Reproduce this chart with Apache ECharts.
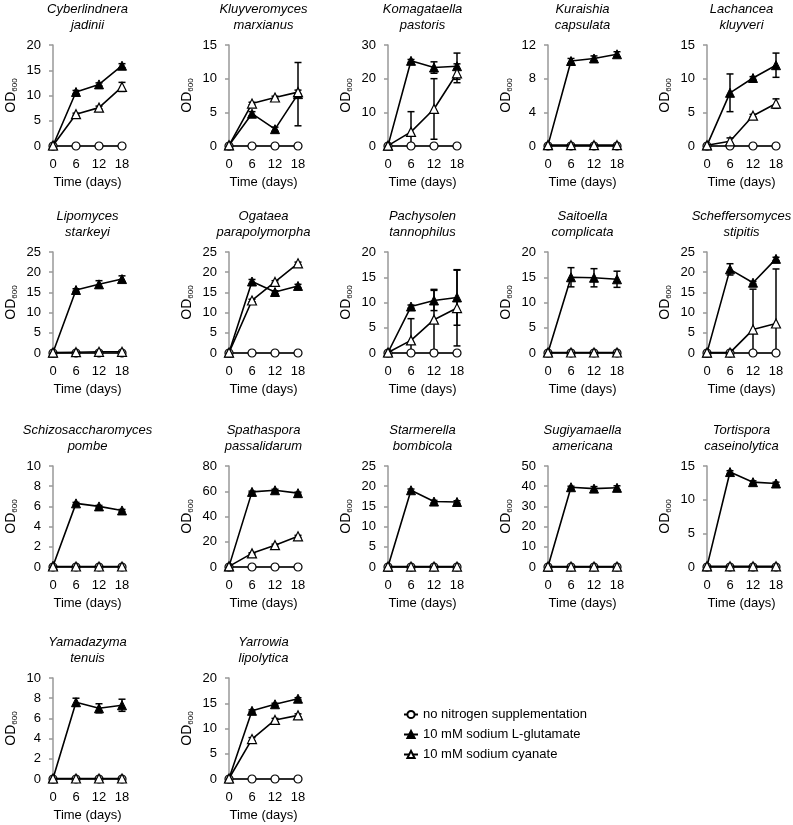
<!DOCTYPE html>
<html>
<head>
<meta charset="utf-8">
<script src="https://cdn.jsdelivr.net/npm/echarts@6/dist/echarts.min.js"></script>
<style>html,body{margin:0;padding:0;background:#fff;}#c{width:793px;height:825px;}</style>
</head>
<body>
<div id="c"></div>
<script>
const days = [0, 6, 12, 18];
const species = [
  'Cyberlindnera\njadinii', 'Kluyveromyces\nmarxianus', 'Komagataella\npastoris', 'Kuraishia\ncapsulata', 'Lachancea\nkluyveri',
  'Lipomyces\nstarkeyi', 'Ogataea\nparapolymorpha', 'Pachysolen\ntannophilus', 'Saitoella\ncomplicata', 'Scheffersomyces\nstipitis',
  'Schizosaccharomyces\npombe', 'Spathaspora\npassalidarum', 'Starmerella\nbombicola', 'Sugiyamaella\namericana', 'Tortispora\ncaseinolytica',
  'Yamadazyma\ntenuis', 'Yarrowia\nlipolytica'
];
const yMax  = [20, 15, 30, 12, 15, 25, 25, 20, 20, 25, 10, 80, 25, 50, 15, 10, 20];
const yStep = [5, 5, 10, 4, 5, 5, 5, 5, 5, 5, 2, 20, 5, 10, 5, 2, 5];
const seriesNames = ['no nitrogen supplementation', '10 mM sodium L-glutamate', '10 mM sodium cyanate'];

const noNitrogen = [
  [0,0,0,0],[0,0,0,0],[0,0,0,0],[0,0,0,0],[0,0,0,0],
  [0,0,0,0],[0,0,0,0],[0,0,0,0],[0,0,0,0],[0,0,0,0],
  [0,0,0,0],[0,0,0,0],[0,0,0,0],[0,0,0,0],[0,0,0,0],
  [0,0,0,0],[0,0,0,0]
];
const glutamate = [
  [0.1,10.7,12.2,15.9],[0.1,4.8,2.5,7.7],[0.1,25.3,23.3,23.7],[0.1,10.1,10.4,10.9],[0.1,7.9,10.1,12.0],
  [0.1,15.6,17.0,18.3],[0.1,17.7,15.1,16.6],[0.1,9.2,10.4,11.0],[0.1,15.0,14.9,14.6],[0.1,20.7,17.4,23.3],
  [0.1,6.3,6.0,5.6],[0.5,59.5,60.8,58.5],[0.1,19.0,16.2,16.1],[0.2,39.5,38.8,39.2],[0.1,14.1,12.6,12.4],
  [0.05,7.6,7.0,7.3],[0.1,13.5,14.8,15.9]
];
const glutamateErr = [
  [0,0.3,0.3,0.4],[0,0.3,0.3,4.7],[0,0.4,1.7,3.9],[0,0.3,0.3,0.3],[0,2.8,0.2,1.8],
  [0,0.3,0.9,0.8],[0,0.5,0.3,0.4],[0,0.3,2.0,5.5],[0,1.9,1.8,1.6],[0,1.4,0.3,0.4],
  [0,0.1,0.1,0.1],[0,0.6,0.8,0.8],[0,0.3,0.3,0.3],[0,0.5,1.0,1.0],[0,0.2,0.2,0.2],
  [0,0.4,0.45,0.6],[0,0.2,0.2,0.2]
];
const cyanate = [
  [0.1,6.3,7.6,11.7],[0.1,6.3,7.2,8.0],[0.1,4.2,11.0,21.6],[0.1,0.1,0.1,0.1],[0.1,0.7,4.5,6.3],
  [0.1,0.2,0.3,0.3],[0.1,13.0,17.6,22.2],[0.1,2.5,6.6,8.9],[0.1,0.1,0.1,0.1],[0.1,0.1,5.8,7.3],
  [0.05,0.05,0.05,0.05],[0.5,10.8,17.3,24.3],[0.1,0.1,0.1,0.1],[0.2,0.2,0.2,0.2],[0.1,0.1,0.1,0.1],
  [0.05,0.05,0.05,0.05],[0.1,7.9,11.7,12.6]
];
const cyanateErr = [
  [0,0.2,0.3,0.9],[0,0.2,0.2,0.3],[0,6.0,9.0,2.8],[0,0,0,0],[0,0.5,0.2,0.7],
  [0,0,0,0],[0,0.3,0.3,0.3],[0,4.3,6.0,7.5],[0,0,0,0],[0,0,10.0,13.5],
  [0,0,0,0],[0,0.5,0.8,0.8],[0,0,0,0],[0,0,0,0],[0,0,0,0],
  [0,0,0,0],[0,0.3,0.3,0.3]
];

const FONT = '"Liberation Sans", Arial, Helvetica, sans-serif';
const colX = [53, 229, 388, 548, 707];
const rowTop = [45, 252, 466, 678];
const GW = 69, GH = 101;

const grid = [], xAxis = [], yAxis = [], series = [], graphic = [];

function pts(vals) { return days.map((d, k) => [d, vals[k]]); }
function errPts(vals, errs) { return days.map((d, k) => [d, vals[k], errs[k]]).filter(p => p[2] > 0); }

function errRender(params, api) {
  const x = api.value(0), y = api.value(1), e = api.value(2);
  const top = api.coord([x, y + e]);
  const bot = api.coord([x, Math.max(0, y - e)]);
  const st = { stroke: '#000', lineWidth: 1.5 };
  return {
    type: 'group',
    children: [
      { type: 'line', shape: { x1: top[0], y1: top[1], x2: bot[0], y2: bot[1] }, style: st },
      { type: 'line', shape: { x1: top[0] - 3.5, y1: top[1], x2: top[0] + 3.5, y2: top[1] }, style: st },
      { type: 'line', shape: { x1: bot[0] - 3.5, y1: bot[1], x2: bot[0] + 3.5, y2: bot[1] }, style: st }
    ]
  };
}

species.forEach((name, i) => {
  const row = Math.floor(i / 5), col = i % 5;
  const left = colX[col], top = rowTop[row];
  grid.push({ left: left, top: top, width: GW, height: GH, outerBoundsMode: 'none' });
  xAxis.push({
    gridIndex: i, type: 'value', min: 0, max: 18, interval: 6,
    name: 'Time (days)', nameLocation: 'middle', nameGap: 30,
    nameTextStyle: { fontFamily: FONT, fontSize: 13, color: '#000' },
    axisLine: { show: true, lineStyle: { color: '#999', width: 1.5 } },
    axisTick: { show: false },
    axisLabel: { fontFamily: FONT, fontSize: 13, color: '#000', margin: 12 },
    splitLine: { show: false }
  });
  yAxis.push({
    gridIndex: i, type: 'value', min: 0, max: yMax[i], interval: yStep[i], offset: 3,
    name: '{a|OD}{b|600}', nameLocation: 'middle', nameGap: 31,
    nameTextStyle: {
      color: '#000',
      rich: {
        a: { fontFamily: FONT, fontSize: 14, color: '#000', lineHeight: 16 },
        b: { fontFamily: FONT, fontSize: 8, color: '#000', verticalAlign: 'bottom', lineHeight: 12 }
      }
    },
    axisLine: { show: true, lineStyle: { color: '#999', width: 1.5 } },
    axisTick: { show: true, length: 4, lineStyle: { color: '#999', width: 1.5 } },
    axisLabel: { fontFamily: FONT, fontSize: 13, color: '#000', margin: 9 },
    splitLine: { show: false }
  });
  graphic.push({
    type: 'text', x: left + GW / 2, y: top - 44, silent: true,
    style: { text: name, align: 'center', verticalAlign: 'top', fontFamily: FONT, fontSize: 13, fontStyle: 'italic', lineHeight: 16, fill: '#000' }
  });
  series.push({
    type: 'custom', xAxisIndex: i, yAxisIndex: i, renderItem: errRender,
    data: errPts(glutamate[i], glutamateErr[i]), z: 1, silent: true
  });
  series.push({
    type: 'custom', xAxisIndex: i, yAxisIndex: i, renderItem: errRender,
    data: errPts(cyanate[i], cyanateErr[i]), z: 1, silent: true
  });
  series.push({
    name: seriesNames[0], type: 'line', xAxisIndex: i, yAxisIndex: i, data: pts(noNitrogen[i]),
    symbol: 'circle', symbolSize: 8, clip: false,
    lineStyle: { color: '#000', width: 1.6 },
    itemStyle: { color: '#fff', borderColor: '#000', borderWidth: 1.2 }, z: 2
  });
  series.push({
    name: seriesNames[1], type: 'line', xAxisIndex: i, yAxisIndex: i, data: pts(glutamate[i]),
    symbol: 'triangle', symbolSize: 9, clip: false,
    lineStyle: { color: '#000', width: 1.6 },
    itemStyle: { color: '#000', borderColor: '#000', borderWidth: 1 }, z: 3
  });
  series.push({
    name: seriesNames[2], type: 'line', xAxisIndex: i, yAxisIndex: i, data: pts(cyanate[i]),
    symbol: 'triangle', symbolSize: 9, clip: false,
    lineStyle: { color: '#000', width: 1.6 },
    itemStyle: { color: '#fff', borderColor: '#000', borderWidth: 1.2 }, z: 4
  });
});

const chart = echarts.init(document.getElementById('c'), null, { renderer: 'canvas' });
chart.setOption({
  animation: false,
  backgroundColor: '#fff',
  grid, xAxis, yAxis, series, graphic,
  legend: {
    data: seriesNames, orient: 'vertical', left: 398, top: 703,
    itemWidth: 14, itemHeight: 9, itemGap: 7,
    textStyle: { fontFamily: FONT, fontSize: 13, color: '#000' }
  },
  tooltip: { show: false }
});
</script>
</body>
</html>
